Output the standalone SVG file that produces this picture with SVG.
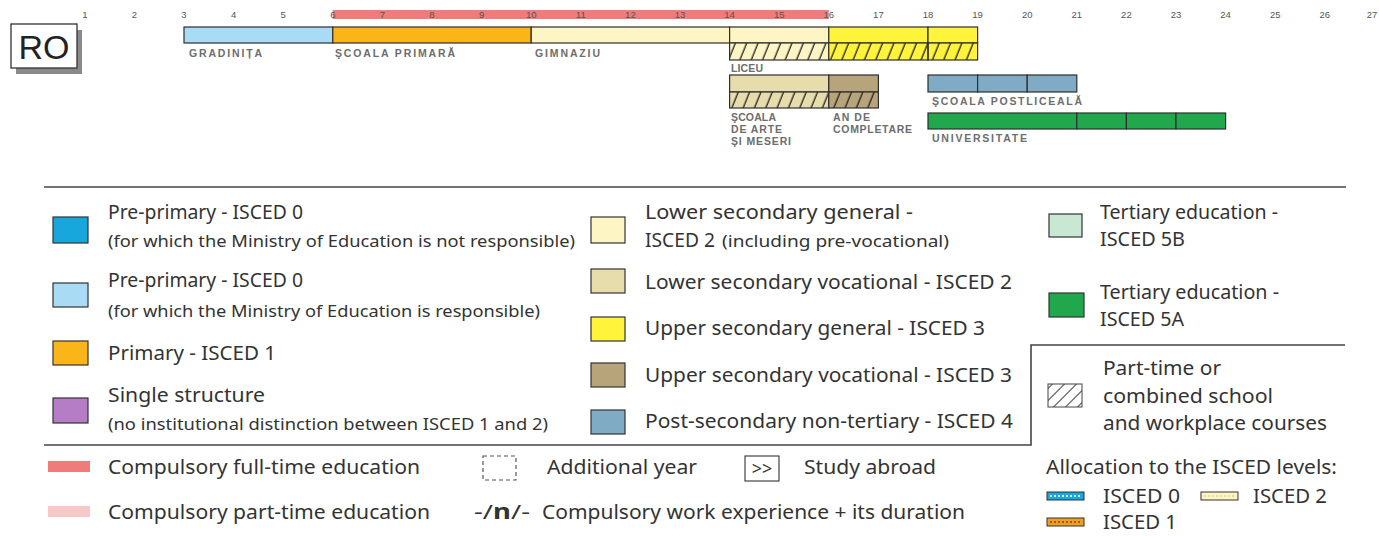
<svg xmlns="http://www.w3.org/2000/svg" width="1379" height="536" viewBox="0 0 1379 536">
<style>
.num{font-family:"Liberation Sans",Arial,sans-serif;font-size:9.5px;fill:#555;text-anchor:middle}
.lab{font-family:"Liberation Sans",Arial,sans-serif;font-size:10.5px;font-weight:bold;fill:#6d6d6d}
.bar{stroke:#2e2e2e;stroke-width:1.2}
.sw{stroke:#333;stroke-width:1.2}
.lt{font-family:"Noto Sans","Open Sans",sans-serif;font-size:20.5px;fill:#333}
.st{font-family:"Noto Sans","Open Sans",sans-serif;font-size:17px;fill:#333}
.rule{stroke:#444;stroke-width:1.6;fill:none}
</style>
<defs>
<pattern id="hatch" patternUnits="userSpaceOnUse" width="10.5" height="10" patternTransform="rotate(22)">
<line x1="5" y1="-1" x2="5" y2="11" stroke="#222" stroke-width="1.3"/>
</pattern>
<pattern id="hatch2" patternUnits="userSpaceOnUse" width="8.5" height="8.5" patternTransform="rotate(45)">
<line x1="4.25" y1="-1" x2="4.25" y2="10" stroke="#444" stroke-width="1.1"/>
</pattern>
</defs>
<rect width="1379" height="536" fill="#fff"/>

<g id="country">
<rect x="16" y="30" width="66" height="44" fill="#8a8a8a"/>
<rect x="11" y="24" width="66" height="44" fill="#fff" stroke="#333" stroke-width="1.3"/>
<text x="44" y="59" font-family="Liberation Sans,Arial,sans-serif" font-size="34" fill="#222" text-anchor="middle">RO</text>
</g>

<g id="compulsory-bar">
<rect x="332.7" y="10" width="496.1" height="9" fill="#ef7b7b"/>
</g>

<g id="age-scale">
<text class="num" x="84.8" y="18">1</text>
<text class="num" x="134.4" y="18">2</text>
<text class="num" x="184" y="18">3</text>
<text class="num" x="233.6" y="18">4</text>
<text class="num" x="283.2" y="18">5</text>
<text class="num" x="332.8" y="18">6</text>
<text class="num" x="382.4" y="18">7</text>
<text class="num" x="432" y="18">8</text>
<text class="num" x="481.6" y="18">9</text>
<text class="num" x="531.2" y="18">10</text>
<text class="num" x="580.8" y="18">11</text>
<text class="num" x="630.4" y="18">12</text>
<text class="num" x="680" y="18">13</text>
<text class="num" x="729.6" y="18">14</text>
<text class="num" x="779.2" y="18">15</text>
<text class="num" x="828.8" y="18">16</text>
<text class="num" x="878.4" y="18">17</text>
<text class="num" x="928" y="18">18</text>
<text class="num" x="977.6" y="18">19</text>
<text class="num" x="1027.2" y="18">20</text>
<text class="num" x="1076.8" y="18">21</text>
<text class="num" x="1126.4" y="18">22</text>
<text class="num" x="1176" y="18">23</text>
<text class="num" x="1225.6" y="18">24</text>
<text class="num" x="1275.2" y="18">25</text>
<text class="num" x="1324.8" y="18">26</text>
<text class="num" x="1372" y="18">27</text>
</g>

<g id="gradinita">
<rect class="bar" x="184" y="27" width="148.8" height="16" fill="#a9dcf4"/>
<text class="lab" x="189" y="56.5" textLength="73">GRADINIȚA</text>
</g>

<g id="scoala-primara">
<rect class="bar" x="332.8" y="27" width="198.4" height="16" fill="#fab618"/>
<text class="lab" x="335" y="56.5" textLength="120">ŞCOALA PRIMARĂ</text>
</g>

<g id="gimnaziu">
<rect class="bar" x="531.2" y="27" width="198.4" height="16" fill="#fdf6c4"/>
<text class="lab" x="535" y="56.5" textLength="65">GIMNAZIU</text>
</g>

<g id="liceu">
<rect class="bar" x="729.6" y="27" width="99.2" height="16" fill="#fdf6c4"/>
<rect x="729.6" y="43" width="99.2" height="17" fill="#fdf6c4"/>
<rect class="bar" x="729.6" y="43" width="99.2" height="17" fill="url(#hatch)"/>
<rect class="bar" x="828.8" y="27" width="99.2" height="16" fill="#fff33c"/>
<rect class="bar" x="928" y="27" width="49.6" height="16" fill="#fff33c"/>
<rect x="828.8" y="43" width="148.8" height="17" fill="#fff33c"/>
<rect class="bar" x="828.8" y="43" width="99.2" height="17" fill="url(#hatch)"/>
<rect class="bar" x="928" y="43" width="49.6" height="17" fill="url(#hatch)"/>
<text class="lab" x="731" y="72" textLength="32">LICEU</text>
</g>

<g id="scoala-arte-meserii">
<rect class="bar" x="729.6" y="75" width="99.2" height="17" fill="#e7dcab"/>
<rect x="729.6" y="92" width="99.2" height="16" fill="#e7dcab"/>
<rect class="bar" x="729.6" y="92" width="99.2" height="16" fill="url(#hatch)"/>
<text class="lab" x="731" y="121" textLength="45">ŞCOALA</text>
<text class="lab" x="731" y="133" textLength="51">DE ARTE</text>
<text class="lab" x="731" y="145" textLength="60">ŞI MESERI</text>
</g>

<g id="an-de-completare">
<rect class="bar" x="828.8" y="75" width="49.6" height="17" fill="#b8a47b"/>
<rect x="828.8" y="92" width="49.6" height="16" fill="#b8a47b"/>
<rect class="bar" x="828.8" y="92" width="49.6" height="16" fill="url(#hatch)"/>
<text class="lab" x="833" y="121" textLength="37">AN DE</text>
<text class="lab" x="833" y="133" textLength="79">COMPLETARE</text>
</g>

<g id="scoala-postliceala">
<rect class="bar" x="928" y="75" width="49.6" height="17" fill="#80abc4"/>
<rect class="bar" x="977.6" y="75" width="49.6" height="17" fill="#80abc4"/>
<rect class="bar" x="1027.2" y="75" width="49.6" height="17" fill="#80abc4"/>
<text class="lab" x="932" y="105" textLength="150">ŞCOALA POSTLICEALĂ</text>
</g>

<g id="universitate">
<rect class="bar" x="928" y="113" width="148.8" height="16" fill="#21a84d"/>
<rect class="bar" x="1076.8" y="113" width="49.6" height="16" fill="#21a84d"/>
<rect class="bar" x="1126.4" y="113" width="49.6" height="16" fill="#21a84d"/>
<rect class="bar" x="1176" y="113" width="49.6" height="16" fill="#21a84d"/>
<text class="lab" x="932" y="142" textLength="95">UNIVERSITATE</text>
</g>

<g id="connectors"></g>

<g id="legend-frame">
<line class="rule" x1="44" y1="187" x2="1346" y2="187"/>
<polyline class="rule" points="44,445 1031,445 1031,345 1345,345"/>
</g>

<g id="legend-isced0-not">
<rect class="sw" x="53" y="217" width="35" height="26" fill="#18a7dd"/>
<text class="lt" x="108" y="219" textLength="195" lengthAdjust="spacingAndGlyphs">Pre-primary - ISCED 0</text>
<text class="st" x="108" y="247" textLength="467" lengthAdjust="spacingAndGlyphs">(for which the Ministry of Education is not responsible)</text>
</g>
<g id="legend-isced0-resp">
<rect class="sw" x="53" y="283" width="35" height="24" fill="#a9dcf4"/>
<text class="lt" x="108" y="287" textLength="195" lengthAdjust="spacingAndGlyphs">Pre-primary  - ISCED 0</text>
<text class="st" x="108" y="317" textLength="432" lengthAdjust="spacingAndGlyphs">(for which the Ministry of Education is responsible)</text>
</g>
<g id="legend-isced1">
<rect class="sw" x="53" y="341" width="35" height="24" fill="#fab618"/>
<text class="lt" x="108" y="360" textLength="168" lengthAdjust="spacingAndGlyphs">Primary - ISCED 1</text>
</g>
<g id="legend-single">
<rect class="sw" x="53" y="398" width="35" height="25" fill="#b47dc5"/>
<text class="lt" x="108" y="402" textLength="157" lengthAdjust="spacingAndGlyphs">Single structure</text>
<text class="st" x="108" y="430" textLength="440" lengthAdjust="spacingAndGlyphs">(no institutional distinction between ISCED 1 and 2)</text>
</g>

<g id="legend-lower-gen">
<rect class="sw" x="591" y="217" width="34" height="26" fill="#fdf6c4"/>
<text class="lt" x="645" y="219" textLength="268" lengthAdjust="spacingAndGlyphs">Lower secondary general -</text>
<text class="lt" x="645" y="247" textLength="70" lengthAdjust="spacingAndGlyphs">ISCED 2</text>
<text class="st" x="722" y="247" textLength="227" lengthAdjust="spacingAndGlyphs">(including pre-vocational)</text>
</g>
<g id="legend-lower-voc">
<rect class="sw" x="591" y="269" width="34" height="24" fill="#e7dcab"/>
<text class="lt" x="645" y="289" textLength="367" lengthAdjust="spacingAndGlyphs">Lower secondary vocational - ISCED 2</text>
</g>
<g id="legend-upper-gen">
<rect class="sw" x="591" y="317" width="34" height="24" fill="#fff33c"/>
<text class="lt" x="645" y="335" textLength="340" lengthAdjust="spacingAndGlyphs">Upper secondary general - ISCED 3</text>
</g>
<g id="legend-upper-voc">
<rect class="sw" x="591" y="363" width="34" height="24" fill="#b8a47b"/>
<text class="lt" x="645" y="382" textLength="367" lengthAdjust="spacingAndGlyphs">Upper secondary vocational - ISCED 3</text>
</g>
<g id="legend-postsec">
<rect class="sw" x="591" y="410" width="34" height="24" fill="#80abc4"/>
<text class="lt" x="645" y="428" textLength="368" lengthAdjust="spacingAndGlyphs">Post-secondary non-tertiary - ISCED 4</text>
</g>

<g id="legend-5b">
<rect class="sw" x="1049" y="214" width="33" height="23" fill="#c8e8d3"/>
<text class="lt" x="1100" y="219" textLength="178" lengthAdjust="spacingAndGlyphs">Tertiary education -</text>
<text class="lt" x="1100" y="245.5" textLength="85" lengthAdjust="spacingAndGlyphs">ISCED 5B</text>
</g>
<g id="legend-5a">
<rect class="sw" x="1049" y="293" width="35" height="24" fill="#21a84d"/>
<text class="lt" x="1100" y="299" textLength="179" lengthAdjust="spacingAndGlyphs">Tertiary education -</text>
<text class="lt" x="1100" y="325.5" textLength="84" lengthAdjust="spacingAndGlyphs">ISCED 5A</text>
</g>
<g id="legend-parttime">
<rect x="1048" y="384" width="34" height="23" fill="url(#hatch2)" stroke="#444" stroke-width="1"/>
<text class="lt" x="1103" y="375" textLength="118" lengthAdjust="spacingAndGlyphs">Part-time or</text>
<text class="lt" x="1103" y="403" textLength="170" lengthAdjust="spacingAndGlyphs">combined school</text>
<text class="lt" x="1103" y="430" textLength="224" lengthAdjust="spacingAndGlyphs">and workplace courses</text>
</g>

<g id="legend-comp-full">
<rect x="48" y="461" width="42" height="11" fill="#ef7b7b"/>
<text class="lt" x="108" y="474" textLength="312" lengthAdjust="spacingAndGlyphs">Compulsory full-time education</text>
</g>
<g id="legend-comp-part">
<rect x="48" y="506" width="42" height="11" fill="#f8c8c8"/>
<text class="lt" x="108" y="519" textLength="322" lengthAdjust="spacingAndGlyphs">Compulsory part-time education</text>
</g>
<g id="legend-additional">
<rect x="483" y="456" width="33" height="24" fill="none" stroke="#555" stroke-width="1.2" stroke-dasharray="4,3"/>
<text class="lt" x="547" y="474" textLength="150" lengthAdjust="spacingAndGlyphs">Additional year</text>
</g>
<g id="legend-work">
<text class="lt" x="474" y="519" textLength="56" lengthAdjust="spacingAndGlyphs">-/<tspan font-weight="bold">n</tspan>/-</text>
<text class="lt" x="542" y="519" textLength="423" lengthAdjust="spacingAndGlyphs">Compulsory work experience + its duration</text>
</g>
<g id="legend-abroad">
<rect x="745" y="456" width="34" height="25" fill="none" stroke="#444" stroke-width="1.2"/>
<text x="762" y="475" font-family="Noto Sans,sans-serif" font-size="18" fill="#333" text-anchor="middle">&gt;&gt;</text>
<text class="lt" x="804" y="474" textLength="132" lengthAdjust="spacingAndGlyphs">Study abroad</text>
</g>
<g id="legend-allocation">
<text class="lt" x="1046" y="474" textLength="291" lengthAdjust="spacingAndGlyphs">Allocation to the ISCED levels:</text>
<rect x="1047" y="492" width="37" height="8" fill="#18a7dd" stroke="#333" stroke-width="1"/>
<line x1="1050" y1="496" x2="1081" y2="496" stroke="#dff3fb" stroke-width="2" stroke-dasharray="2,2"/>
<text class="lt" x="1103" y="503" textLength="77" lengthAdjust="spacingAndGlyphs">ISCED 0</text>
<rect x="1201" y="492" width="37" height="8" fill="#fdf6c4" stroke="#333" stroke-width="1"/>
<line x1="1204" y1="496" x2="1235" y2="496" stroke="#e6de9c" stroke-width="2" stroke-dasharray="2,2"/>
<text class="lt" x="1253" y="503" textLength="74" lengthAdjust="spacingAndGlyphs">ISCED 2</text>
<rect x="1047" y="518" width="37" height="8" fill="#f0a020" stroke="#333" stroke-width="1"/>
<line x1="1050" y1="522" x2="1081" y2="522" stroke="#9a5a10" stroke-width="2" stroke-dasharray="2,2"/>
<text class="lt" x="1103" y="529" textLength="74" lengthAdjust="spacingAndGlyphs">ISCED 1</text>
</g>
</svg>
